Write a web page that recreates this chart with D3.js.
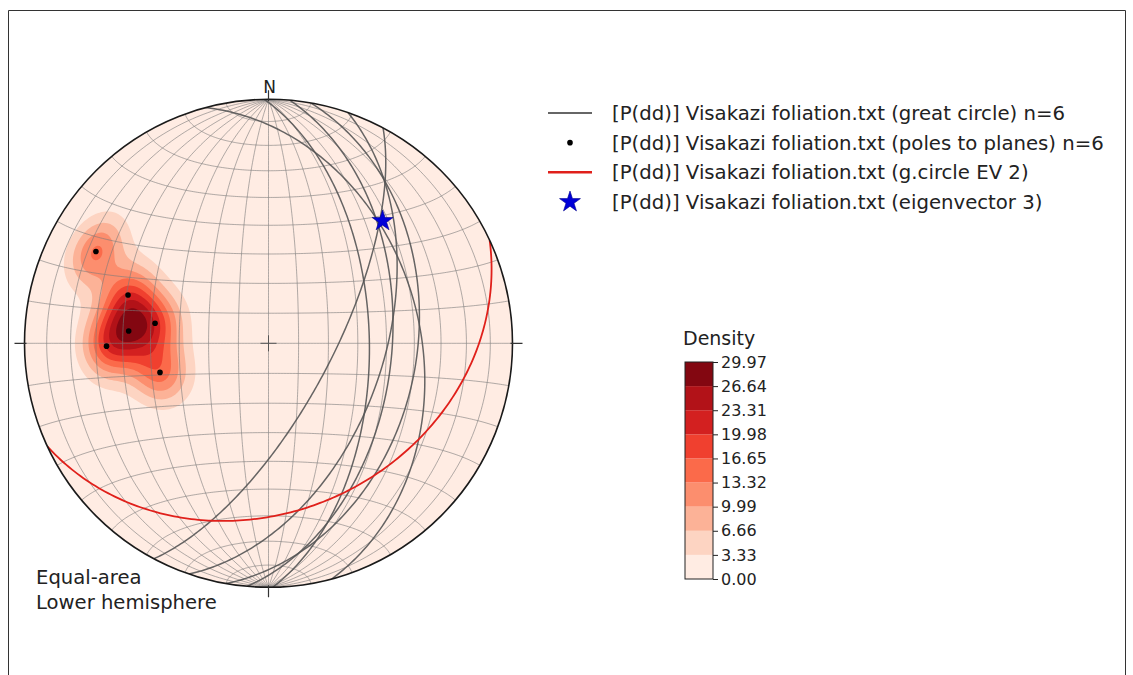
<!DOCTYPE html>
<html>
<head>
<meta charset="utf-8">
<script src="https://cdn.jsdelivr.net/npm/d3@7"></script>
<style>
  body { margin: 0; background: #fff; }
  svg { display: block; }
  text { font-family: "DejaVu Sans", sans-serif; fill: #222; }
</style>
</head>
<body>
<svg id="chart" width="1133" height="675"></svg>
<script>
// Foliation planes (dip direction / dip, degrees)
const dipDirections = [118, 109, 100, 95, 89, 75];
const dips          = [69, 51, 39, 48, 56, 38];

// Eigenvector 3 (trend / plunge, degrees)
const eigenvector3 = { trend: 43, plunge: 32 };

// Plane drawn as "g.circle EV 2" (dip direction / dip, degrees)
const ev2Plane = { dipDirection: 155, dip: 32 };

// Density contour levels (colorbar tick labels)
const densityLevels = [0.00, 3.33, 6.66, 9.99, 13.32, 16.65, 19.98, 23.31, 26.64, 29.97];

const legendLabels = [
  "[P(dd)] Visakazi foliation.txt (great circle) n=6",
  "[P(dd)] Visakazi foliation.txt (poles to planes) n=6",
  "[P(dd)] Visakazi foliation.txt (g.circle EV 2)",
  "[P(dd)] Visakazi foliation.txt (eigenvector 3)"
];

const svg = d3.select("#chart");
const rad = Math.PI / 180;

// Net geometry: equal-area (Schmidt) lower hemisphere
const cx = 268.5, cy = 343.3, R = 244;
const xNet = d3.scaleLinear().domain([-1, 1]).range([cx - R, cx + R]);
const yNet = d3.scaleLinear().domain([-1, 1]).range([cy + R, cy - R]);

// direction (east, north, down) from trend / plunge
function toVec(trend, plunge) {
  return [Math.cos(plunge * rad) * Math.sin(trend * rad),
          Math.cos(plunge * rad) * Math.cos(trend * rad),
          Math.sin(plunge * rad)];
}
// lower-hemisphere equal-area projection of a unit vector
function project(v) {
  let [e, n, d] = v;
  if (d < -1e-9) { e = -e; n = -n; d = -d; }
  d = Math.max(0, d);
  const s = 1 / Math.sqrt(1 + d);
  return [xNet(e * s), yNet(n * s)];
}
// points along the great circle of a plane
function greatCircle(dd, dip) {
  const s = (dd - 90) * rad;
  const st = [Math.sin(s), Math.cos(s), 0];
  const dv = [Math.sin(dd * rad) * Math.cos(dip * rad),
              Math.cos(dd * rad) * Math.cos(dip * rad),
              Math.sin(dip * rad)];
  return d3.range(0, 180.001, 1).map(b => {
    const c = Math.cos(b * rad), si = Math.sin(b * rad);
    return project([c * st[0] + si * dv[0], c * st[1] + si * dv[1], c * st[2] + si * dv[2]]);
  });
}
// small circle about the N-S axis at angle alpha from north
function smallCircle(alpha) {
  return d3.range(-90, 90.001, 1).map(p => project([
    Math.sin(alpha * rad) * Math.sin(p * rad),
    Math.cos(alpha * rad),
    Math.sin(alpha * rad) * Math.cos(p * rad)
  ]));
}
const line = d3.line();

// Reds colour ramp
const redsStops = ["#fff5f0", "#fee0d2", "#fcbba1", "#fc9272", "#fb6a4a", "#ef3b2c", "#cb181d", "#a50f15", "#67000d"];
const reds = d3.scaleLinear().domain(d3.range(9).map(i => i / 8)).range(redsStops).interpolate(d3.interpolateRgb);
const nBands = densityLevels.length - 1;
const bandColor = i => reds((i + 0.5) / nBands);

// frame
svg.append("path").attr("d", "M8.5,675V10.5H1125.5V675")
  .attr("fill", "none").attr("stroke", "#333").attr("stroke-width", 1);

// clip to the primitive circle
svg.append("defs").append("clipPath").attr("id", "netClip")
  .append("circle").attr("cx", cx).attr("cy", cy).attr("r", R);

const net = svg.append("g").attr("clip-path", "url(#netClip)");

// ----- density of poles (spherical exponential kernel) -----
const poles = dipDirections.map((dd, i) => toVec(dd + 180, 90 - dips[i]));
const nGrid = 244, kappa = 65;
const grid = new Float64Array(nGrid * nGrid);
for (let j = 0; j < nGrid; j++) {
  for (let i = 0; i < nGrid; i++) {
    let X = -1 + (i + 0.5) * 2 / nGrid, Y = 1 - (j + 0.5) * 2 / nGrid;
    let r2 = X * X + Y * Y;
    if (r2 > 1) { const r = Math.sqrt(r2); X /= r; Y /= r; r2 = 1; }
    const f = Math.sqrt(2 - r2);
    const v = [X * f, Y * f, 1 - r2];
    let s = 0;
    for (const p of poles) {
      const dot = Math.abs(v[0] * p[0] + v[1] * p[1] + v[2] * p[2]);
      s += Math.exp(kappa * (dot - 1));
    }
    grid[j * nGrid + i] = s;
  }
}
// density scaled so the peak sits on the top contour level
const peak = d3.max(grid);
const topLevel = densityLevels[densityLevels.length - 1];
for (let k = 0; k < grid.length; k++) grid[k] *= topLevel / peak;

const contours = d3.contours().size([nGrid, nGrid]).thresholds(densityLevels.slice(1, nBands))(grid);
const step = 2 * R / nGrid;
const gridPath = d3.geoPath(d3.geoTransform({
  point(x, y) { this.stream.point(xNet(-1 + x * step / R), yNet(1 - y * step / R)); }
}));

net.append("circle").attr("cx", cx).attr("cy", cy).attr("r", R).attr("fill", bandColor(0));
net.append("g").selectAll("path").data(contours).join("path")
  .attr("d", gridPath)
  .attr("fill", (d, i) => bandColor(i + 1));

// ----- Schmidt net grid -----
const gridG = net.append("g").attr("fill", "none").attr("stroke", "#7a7a7a")
  .attr("stroke-width", 0.8).attr("stroke-opacity", 0.75);
d3.range(10, 90, 10).forEach(dip => {
  gridG.append("path").attr("d", line(greatCircle(90, dip)));
  gridG.append("path").attr("d", line(greatCircle(270, dip)));
});
gridG.append("path").attr("d", line(greatCircle(90, 90)));
d3.range(10, 180, 10).forEach(a => gridG.append("path").attr("d", line(smallCircle(a))));

// centre cross
svg.append("path").attr("d", `M${cx - 8},${cy}H${cx + 8}M${cx},${cy - 8}V${cy + 8}`)
  .attr("stroke", "#555").attr("stroke-width", 1);

// ----- great circles of the planes -----
net.append("g").selectAll("path").data(dipDirections).join("path")
  .attr("d", (dd, i) => line(greatCircle(dd, dips[i])))
  .attr("fill", "none").attr("stroke", "#555").attr("stroke-width", 1.5).attr("stroke-opacity", 0.9);

// ----- EV 2 great circle -----
net.append("path").attr("d", line(greatCircle(ev2Plane.dipDirection, ev2Plane.dip)))
  .attr("fill", "none").attr("stroke", "#e0201b").attr("stroke-width", 1.8);

// ----- poles -----
net.append("g").selectAll("circle").data(poles).join("circle")
  .attr("cx", p => project(p)[0]).attr("cy", p => project(p)[1])
  .attr("r", 2.8).attr("fill", "#000");

// ----- eigenvector 3 -----
const ev3 = project(toVec(eigenvector3.trend, eigenvector3.plunge));
const star = d3.symbol(d3.symbolStar, 136);
svg.append("path").attr("d", star()).attr("transform", `translate(${ev3[0]},${ev3[1]})`)
  .attr("fill", "#0000d8").attr("stroke", "#00008a").attr("stroke-width", 0.6);

// primitive circle and cardinal ticks
svg.append("circle").attr("cx", cx).attr("cy", cy).attr("r", R)
  .attr("fill", "none").attr("stroke", "#1a1a1a").attr("stroke-width", 1.6);
svg.append("path")
  .attr("d", `M${cx},${cy - R - 9}V${cy - R + 2}M${cx},${cy + R - 2}V${cy + R + 10}` +
             `M${cx - R - 10},${cy}H${cx - R + 2}M${cx + R - 2},${cy}H${cx + R + 10}`)
  .attr("stroke", "#333").attr("stroke-width", 1.2);
svg.append("text").attr("x", cx + 1).attr("y", cy - R - 6).attr("text-anchor", "middle")
  .attr("font-size", 17).text("N");

svg.append("text").attr("x", 36).attr("y", 584).attr("font-size", 19.6).text("Equal-area");
svg.append("text").attr("x", 36).attr("y", 609).attr("font-size", 19.6).text("Lower hemisphere");

// ----- legend -----
const legend = svg.append("g");
const rowY = d3.scalePoint().domain(d3.range(legendLabels.length)).range([113, 202]);
legend.append("line").attr("x1", 548).attr("x2", 592).attr("y1", rowY(0)).attr("y2", rowY(0))
  .attr("stroke", "#666").attr("stroke-width", 2);
legend.append("circle").attr("cx", 570).attr("cy", rowY(1)).attr("r", 2.8).attr("fill", "#000");
legend.append("line").attr("x1", 548).attr("x2", 592).attr("y1", rowY(2)).attr("y2", rowY(2))
  .attr("stroke", "#e0201b").attr("stroke-width", 2.5);
legend.append("path").attr("d", star()).attr("transform", `translate(570,${rowY(3)})`)
  .attr("fill", "#0000d8").attr("stroke", "#00008a").attr("stroke-width", 0.6);
legend.selectAll("text").data(legendLabels).join("text")
  .attr("x", 612).attr("y", (d, i) => rowY(i)).attr("dy", "0.36em")
  .attr("font-size", 19.7).text(d => d);

// ----- colorbar -----
const cbX = 685, cbW = 28;
const cbY = d3.scaleLinear().domain([densityLevels[0], topLevel]).range([579, 362]);
const cb = svg.append("g");
cb.selectAll("rect").data(d3.range(nBands)).join("rect")
  .attr("x", cbX).attr("width", cbW)
  .attr("y", i => cbY(densityLevels[i + 1]))
  .attr("height", i => cbY(densityLevels[i]) - cbY(densityLevels[i + 1]))
  .attr("fill", i => bandColor(i));
cb.append("rect").attr("x", cbX).attr("y", cbY(topLevel)).attr("width", cbW)
  .attr("height", cbY(0) - cbY(topLevel)).attr("fill", "none").attr("stroke", "#222").attr("stroke-width", 1);
const cbAxis = d3.axisRight(cbY).tickValues(densityLevels).tickFormat(d3.format(".2f"))
  .tickSizeInner(5).tickSizeOuter(0).tickPadding(3);
const axG = cb.append("g").attr("transform", `translate(${cbX + cbW},0)`).call(cbAxis);
axG.select(".domain").remove();
axG.selectAll("line").attr("stroke", "#222");
axG.selectAll("text").attr("font-size", 16).attr("font-family", "DejaVu Sans, sans-serif").attr("fill", "#222");
svg.append("text").attr("x", 683).attr("y", 345)
  .attr("font-size", 19).text("Density");
</script>
</body>
</html>
